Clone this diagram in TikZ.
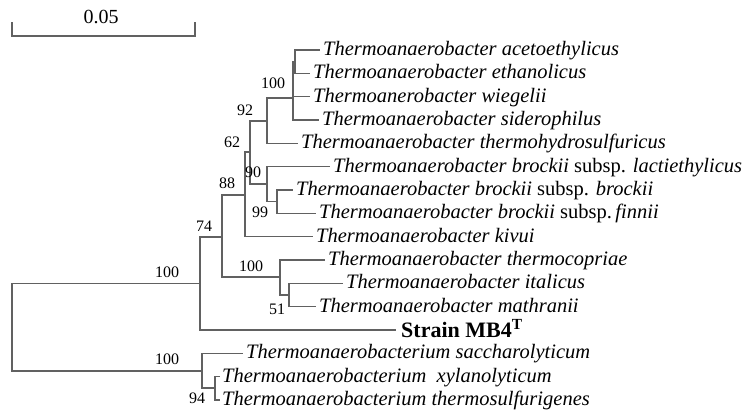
\documentclass[tikz,border=0pt]{standalone}
\usepackage{fontspec}
\setmainfont{Liberation Serif}
\begin{document}
\begin{tikzpicture}[x=1pt,y=-1pt,
  br/.style={draw=black!62, line width=1.25pt},
  leaf/.style={anchor=base west, inner sep=0pt, font=\fontsize{20.5}{22}\selectfont\itshape},
  strainlbl/.style={anchor=base west, inner sep=0pt, font=\fontsize{22}{24}\selectfont\bfseries},
  boot/.style={inner sep=0pt, font=\fontsize{16}{18}\selectfont},
  scalelbl/.style={inner sep=0pt, font=\fontsize{20}{22}\selectfont}]
\useasboundingbox (0,0) rectangle (747,413);
% scale bar
\coordinate (sbL) at (12,22);
\coordinate (sbR) at (195,22);
\coordinate (sbLb) at (12,36);
\coordinate (sbRb) at (195,36);
\draw[br] (sbL) -- (sbLb) -- (sbRb) -- (sbR);
\node[scalelbl] (sblabel) at (101,17) {0.05};
% internal nodes (x, stem y)
\coordinate (root) at (12,327);
\coordinate (n100a) at (200,283.5);
\coordinate (n74) at (222,237);
\coordinate (n88) at (245,195);
\coordinate (n62) at (250,152);
\coordinate (n92) at (267,121);
\coordinate (n100b) at (293,98);
\coordinate (nA) at (295,61.7);
\coordinate (n90) at (267,184);
\coordinate (n99) at (277,201.5);
\coordinate (n100c) at (280,277);
\coordinate (n51) at (289,295);
\coordinate (n100d) at (202,371);
\coordinate (n94) at (215,388);
% leaf tips
\coordinate (tAceto) at (320,50);
\coordinate (tEthan) at (310,73.3);
\coordinate (tWieg) at (310,96.7);
\coordinate (tSider) at (319,120);
\coordinate (tHydro) at (298,143.3);
\coordinate (tLacti) at (330,166.7);
\coordinate (tBrock) at (293,190);
\coordinate (tFinn) at (316,213.3);
\coordinate (tKivui) at (313,236.7);
\coordinate (tCopr) at (325,260);
\coordinate (tItal) at (343,283.3);
\coordinate (tMath) at (316,306.7);
\coordinate (tStrain) at (396,330);
\coordinate (tSacch) at (243,353.3);
\coordinate (tXylan) at (220,376.7);
\coordinate (tSulf) at (220,400);
% branches
\draw[br] (root) |- (n100a);
\draw[br] (root) |- (n100d);
\draw[br] (n100a) |- (n74);
\draw[br] (n100a) |- (tStrain);
\draw[br] (n74) |- (n88);
\draw[br] (n74) |- (n100c);
\draw[br] (n88) |- (n62);
\draw[br] (n88) |- (tKivui);
\draw[br] (n62) |- (n92);
\draw[br] (n62) |- (n90);
\draw[br] (n92) |- (n100b);
\draw[br] (n92) |- (tHydro);
\draw[br] (n100b) |- (nA);
\draw[br] (n100b) |- (tWieg);
\draw[br] (n100b) |- (tSider);
\draw[br] (nA) |- (tAceto);
\draw[br] (nA) |- (tEthan);
\draw[br] (n90) |- (tLacti);
\draw[br] (n90) |- (n99);
\draw[br] (n99) |- (tBrock);
\draw[br] (n99) |- (tFinn);
\draw[br] (n100c) |- (tCopr);
\draw[br] (n100c) |- (n51);
\draw[br] (n51) |- (tItal);
\draw[br] (n51) |- (tMath);
\draw[br] (n100d) |- (tSacch);
\draw[br] (n100d) |- (n94);
\draw[br] (n94) |- (tXylan);
\draw[br] (n94) |- (tSulf);
% leaf labels
\node[leaf] (lAceto) at ([xshift=3pt,yshift=-5.5pt]tAceto) {Thermoanaerobacter acetoethylicus};
\node[leaf] (lEthan) at ([xshift=3pt,yshift=-5.5pt]tEthan) {Thermoanaerobacter ethanolicus};
\node[leaf] (lWieg) at ([xshift=3pt,yshift=-5.5pt]tWieg) {Thermoanerobacter wiegelii};
\node[leaf] (lSider) at ([xshift=3pt,yshift=-5.5pt]tSider) {Thermoanaerobacter siderophilus};
\node[leaf] (lHydro) at ([xshift=3pt,yshift=-5.5pt]tHydro) {Thermoanaerobacter thermohydrosulfuricus};
\node[leaf] (lLacti) at ([xshift=3pt,yshift=-5.5pt]tLacti) {Thermoanaerobacter brockii \upshape subsp. \itshape lactiethylicus};
\node[leaf] (lBrock) at ([xshift=3pt,yshift=-5.5pt]tBrock) {Thermoanaerobacter brockii \upshape subsp. \itshape brockii};
\node[leaf] (lFinn) at ([xshift=3pt,yshift=-5.5pt]tFinn) {Thermoanaerobacter brockii \upshape subsp.\,\itshape finnii};
\node[leaf] (lKivui) at ([xshift=3pt,yshift=-5.5pt]tKivui) {Thermoanaerobacter kivui};
\node[leaf] (lCopr) at ([xshift=3pt,yshift=-5.5pt]tCopr) {Thermoanaerobacter thermocopriae};
\node[leaf] (lItal) at ([xshift=3pt,yshift=-5.5pt]tItal) {Thermoanaerobacter italicus};
\node[leaf] (lMath) at ([xshift=3pt,yshift=-5.5pt]tMath) {Thermoanaerobacter mathranii};
\node[strainlbl] (lStrain) at ([xshift=5pt,yshift=-7pt]tStrain) {Strain MB4\textsuperscript{T}};
\node[leaf] (lSacch) at ([xshift=3pt,yshift=-5.5pt]tSacch) {Thermoanaerobacterium saccharolyticum};
\node[leaf] (lXylan) at ([xshift=2pt,yshift=-5.5pt]tXylan) {Thermoanaerobacterium\ \ xylanolyticum};
\node[leaf] (lSulf) at ([xshift=2pt,yshift=-5.5pt]tSulf) {Thermoanaerobacterium thermosulfurigenes};
% bootstrap values
\node[boot] (b100a) at (167,272) {100};
\node[boot] (b100d) at (167,359) {100};
\node[boot] (b94) at (197,398) {94};
\node[boot] (b74) at (204,226) {74};
\node[boot] (b88) at (227,183) {88};
\node[boot] (b62) at (232,142) {62};
\node[boot] (b92) at (245,110) {92};
\node[boot] (b100b) at (273,83) {100};
\node[boot] (b90) at (253,172) {90};
\node[boot] (b99) at (260,212) {99};
\node[boot] (b100c) at (251,266) {100};
\node[boot] (b51) at (277,309) {51};
\end{tikzpicture}
\end{document}
